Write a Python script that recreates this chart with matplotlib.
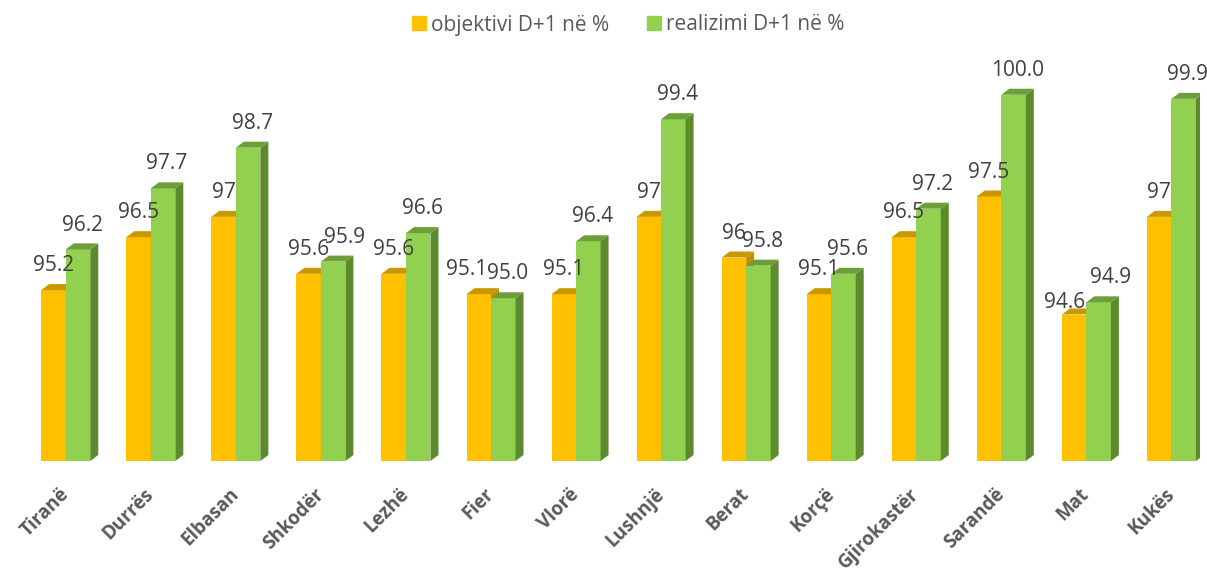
import numpy as np
import matplotlib.pyplot as plt
import matplotlib.transforms as mtransforms
from matplotlib.patches import Polygon

cities = ['Tiranë', 'Durrës', 'Elbasan', 'Shkodër', 'Lezhë', 'Fier', 'Vlorë',
          'Lushnjë', 'Berat', 'Korçë', 'Gjirokastër', 'Sarandë', 'Mat', 'Kukës']
objektivi = [95.2, 96.5, 97, 95.6, 95.6, 95.1, 95.1, 97, 96, 95.1, 96.5, 97.5, 94.6, 97]
realizimi = [96.2, 97.7, 98.7, 95.9, 96.6, 95.0, 96.4, 99.4, 95.8, 95.6, 97.2, 100.0, 94.9, 99.9]
obj_labels = ['95.2', '96.5', '97', '95.6', '95.6', '95.1', '95.1', '97', '96', '95.1',
              '96.5', '97.5', '94.6', '97']
real_labels = ['96.2', '97.7', '98.7', '95.9', '96.6', '95.0', '96.4', '99.4', '95.8',
               '95.6', '97.2', '100.0', '94.9', '99.9']

# hand-moved data labels (points), as in the original chart
nudge_obj = {5: (-9, 0), 12: (-7, -9)}
nudge_real = {3: (5, 0), 12: (6, 0)}

plt.rcParams['font.family'] = ['Open Sans', 'DejaVu Sans']

############ colours #####################################
front = {'obj': '#FFC000', 'real': '#92D050'}
top = {'obj': '#C99700', 'real': '#6E9E3A'}
side = {'obj': '#BF8F00', 'real': '#5E8A2E'}

ymin, ymax = 91.0, 101.1
W, H = 1207, 569
fig = plt.figure(figsize=(W / 100, H / 100), dpi=100)
ax = fig.add_axes([20 / W, (H - 461) / H, 1180 / W, 411 / H])
ax.set_xlim(-0.538, 13.336)
ax.set_ylim(ymin, ymax)

bw = 0.288            # bar width in category units
dx = 8 / 85.05        # depth offsets (px converted to data units)
dy = 6 / 40.7

x = np.arange(len(cities))


def bar3d(xl, val, key):
    # front face
    ax.bar(xl, val - ymin, width=bw, bottom=ymin, align='edge',
           color=front[key], linewidth=0, zorder=2)
    # side face
    ax.add_patch(Polygon([(xl + bw, ymin), (xl + bw + dx, ymin + dy),
                          (xl + bw + dx, val + dy), (xl + bw, val)],
                         closed=True, facecolor=side[key], linewidth=0, zorder=2))
    # top face
    ax.add_patch(Polygon([(xl, val), (xl + bw, val), (xl + bw + dx, val + dy),
                          (xl + dx, val + dy)],
                         closed=True, facecolor=top[key], linewidth=0, zorder=2))


for i in x:
    bar3d(i - bw, objektivi[i], 'obj')
    bar3d(i, realizimi[i], 'real')
    ox, oy = nudge_obj.get(i, (0, 0))
    ax.annotate(obj_labels[i], (i - bw / 2, objektivi[i]), xytext=(ox, 10 + oy),
                textcoords='offset points', ha='center', va='bottom',
                fontsize=15, color='#404040', zorder=3)
    rx, ry = nudge_real.get(i, (0, 0))
    ax.annotate(real_labels[i], (i + bw / 2 + dx / 2, realizimi[i]), xytext=(rx, 10 + ry),
                textcoords='offset points', ha='center', va='bottom',
                fontsize=15, color='#404040', zorder=3)

ax.set_xticks(x)
ax.set_xticklabels(cities, rotation=45, ha='right', va='center', rotation_mode='anchor',
                   fontsize=13.5, fontweight='bold', color='#595959')
shift = mtransforms.ScaledTranslation(-10 / 100, 2 / 100, fig.dpi_scale_trans)
for lab in ax.get_xticklabels():
    lab.set_transform(lab.get_transform() + shift)
ax.tick_params(axis='x', length=0, pad=22)
ax.set_yticks([])
for s in ax.spines.values():
    s.set_visible(False)

############ legend ######################################
h1 = plt.Rectangle((0, 0), 1, 1, color=front['obj'])
h2 = plt.Rectangle((0, 0), 1, 1, color=front['real'])
fig.legend([h1, h2], ['objektivi D+1 në %', 'realizimi D+1 në %'],
           loc='center', bbox_to_anchor=(628 / W, 1 - 25 / H), ncol=2,
           frameon=False, fontsize=15, handlelength=0.67, handleheight=0.67,
           handletextpad=0.25, columnspacing=1.8, labelcolor='#595959')

fig.savefig('out.png', dpi=100)
